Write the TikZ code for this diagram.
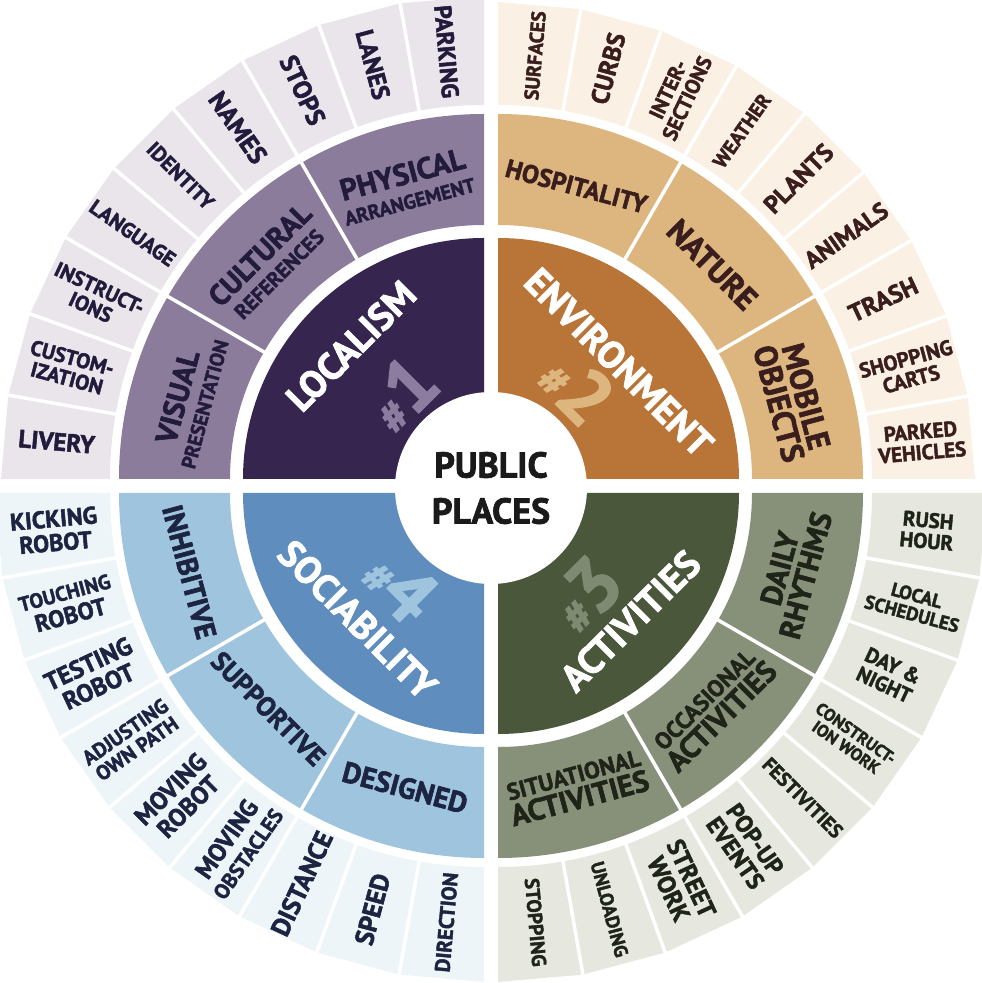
\documentclass[tikz,border=0pt]{standalone}
\usepackage{fontspec}
\setmainfont{PT Sans}[BoldFeatures={FakeBold=2}]
\usetikzlibrary{calc}

% quadrant palettes
\definecolor{locDark}{HTML}{36264F}
\definecolor{locMid}{HTML}{8B7C9B}
\definecolor{locOut}{HTML}{E9E5EA}
\definecolor{locText}{HTML}{221B3B}
\definecolor{locNum}{HTML}{8C7CA0}
\definecolor{envDark}{HTML}{B97438}
\definecolor{envMid}{HTML}{DCB67E}
\definecolor{envOut}{HTML}{FAF0E3}
\definecolor{envText}{HTML}{3A1E1E}
\definecolor{envNum}{HTML}{DDB57F}
\definecolor{actDark}{HTML}{4A573B}
\definecolor{actMid}{HTML}{87917A}
\definecolor{actOut}{HTML}{E6E7DF}
\definecolor{actText}{HTML}{1F2419}
\definecolor{actNum}{HTML}{7E8A71}
\definecolor{socDark}{HTML}{5F8DBE}
\definecolor{socMid}{HTML}{9FC4DE}
\definecolor{socOut}{HTML}{EEF5F9}
\definecolor{socText}{HTML}{1C2442}
\definecolor{socNum}{HTML}{9FC4DE}
\definecolor{hubText}{HTML}{1A1A1A}

\newcommand\fsz[1]{\fontsize{#1}{#1}\selectfont}

\begin{document}
\begin{tikzpicture}[x=1pt,y=1pt,
  sz/.style={font=\bfseries\fontsize{#1}{#1}\selectfont},
  lbl/.style={inner sep=0pt, align=center},
  nwl/.style={lbl, text=locText},
  nel/.style={lbl, text=envText},
  sel/.style={lbl, text=actText},
  swl/.style={lbl, text=socText},
  big/.style={lbl, text=white, sz=38},
  num/.style={lbl, font=\bfseries},
  sep/.style={white, line width=3.5pt},
]
\useasboundingbox (0,0) rectangle (982,983);
\clip (0,0) rectangle (982,983);

% corners of the four quadrants
\coordinate (nw) at (484,504);
\coordinate (ne) at (498,504);
\coordinate (se) at (498,490);
\coordinate (sw) at (484,490);

% rings: dark core, three middle sectors, nine outer cells
\foreach \c/\a/\dk/\md/\ou/\R [evaluate=\a as \b using int(\a+90)] in
  {nw/90/locDark/locMid/locOut/483pt,
   ne/0/envDark/envMid/envOut/477pt,
   se/270/actDark/actMid/actOut/489pt,
   sw/180/socDark/socMid/socOut/489pt}{
  \fill[\dk] (\c) -- ($(\c)+(\a:241pt)$) arc[start angle=\a, end angle=\b, radius=241pt] -- cycle;
  \fill[\md] ($(\c)+(\a:254pt)$) arc[start angle=\a, end angle=\b, radius=254pt]
     -- ($(\c)+(\b:365pt)$) arc[start angle=\b, end angle=\a, radius=365pt] -- cycle;
  \fill[\ou] ($(\c)+(\a:374pt)$) arc[start angle=\a, end angle=\b, radius=374pt]
     \foreach \k in {9,8,...,0}{ -- ($(\c)+(\a+10*\k:\R)$) } -- cycle;
  \foreach \k in {1,...,8}
    \draw[sep] ($(\c)+(\a+10*\k:371pt)$) -- ($(\c)+(\a+10*\k:520pt)$);
  \foreach \k in {1,2}
    \draw[sep] ($(\c)+(\a+30*\k:250pt)$) -- ($(\c)+(\a+30*\k:369pt)$);
}

% hub
\fill[white] (491,495) circle[radius=96pt];
\node[lbl, text=hubText, font=\bfseries\fontsize{36}{46}\selectfont] (hub) at (491,495) {PUBLIC\\PLACES};

% core numbers, then titles
\node[num, text=locNum, rotate=45] (n1) at ($(nw)+(134:120pt)$) {{\fsz{44}\#}{\fsz{76}1}};
\node[num, text=envNum, rotate=-45] (n2) at ($(ne)+(49:121pt)$) {{\fsz{44}\#}{\fsz{76}2}};
\node[num, text=actNum, rotate=45] (n3) at ($(se)+(-49:133pt)$) {{\fsz{44}\#}{\fsz{76}3}};
\node[num, text=socNum, rotate=-45] (n4) at ($(sw)+(228:124pt)$) {{\fsz{44}\#}{\fsz{76}4}};
\node[big, rotate=45] (localism) at ($(nw)+(135:188pt)$) {LOCALISM};
\node[big, rotate=-45] (environment) at ($(ne)+(44:168pt)$) {ENVIRONMENT};
\node[big, rotate=45] (activities) at ($(se)+(-44:184pt)$) {ACTIVITIES};
\node[big, rotate=-45] (sociability) at ($(sw)+(225:179pt)$) {SOCIABILITY};

% localism: middle ring
\node[nwl, sz=30, rotate=75] (visual) at ($(nw)+(165:305pt)$) {VISUAL\\[-5pt]{\fsz{20}PRESENTATION}};
\node[nwl, sz=29.5, rotate=45] (cultural) at ($(nw)+(135:305pt)$) {CULTURAL\\[-5pt]{\fsz{21}REFERENCES}};
\node[nwl, sz=30, rotate=15] (physical) at ($(nw)+(105:303pt)$) {PHYSICAL\\[-5pt]{\fsz{20}ARRANGEMENT}};
% localism: outer ring
\node[nwl, sz=25, rotate=-5] (livery) at ($(nw)+(175:429pt)$) {LIVERY};
\node[nwl, sz=21, rotate=-15] (custom) at ($(nw)+(165:429pt)$) {CUSTOM-\\IZATION};
\node[nwl, sz=21, rotate=-25] (instruct) at ($(nw)+(155:429pt)$) {INSTRUCT-\\IONS};
\node[nwl, sz=21, rotate=-35] (language) at ($(nw)+(145:429pt)$) {LANGUAGE};
\node[nwl, sz=21, rotate=-45] (identity) at ($(nw)+(135:429pt)$) {IDENTITY};
\node[nwl, sz=26, rotate=-55] (names) at ($(nw)+(125:429pt)$) {NAMES};
\node[nwl, sz=26, rotate=-65] (stops) at ($(nw)+(115:429pt)$) {STOPS};
\node[nwl, sz=25, rotate=-75] (lanes) at ($(nw)+(105:429pt)$) {LANES};
\node[nwl, sz=24, rotate=-85] (parking) at ($(nw)+(95:429pt)$) {PARKING};

% environment: middle ring
\node[nel, sz=25.5, rotate=-15] (hospitality) at ($(ne)+(75:303pt)$) {HOSPITALITY};
\node[nel, sz=32, rotate=-45] (nature) at ($(ne)+(45:303pt)$) {NATURE};
\node[nel, sz=32, rotate=-75] (mobile) at ($(ne)+(15:305pt)$) {MOBILE\\[-4pt]OBJECTS};
% environment: outer ring
\node[nel, sz=20, rotate=85] (surfaces) at ($(ne)+(85:425pt)$) {SURFACES};
\node[nel, sz=25, rotate=75] (curbs) at ($(ne)+(75:425pt)$) {CURBS};
\node[nel, sz=21, rotate=65] (inter) at ($(ne)+(65:425pt)$) {INTER-\\SECTIONS};
\node[nel, sz=20, rotate=55] (weather) at ($(ne)+(55:425pt)$) {WEATHER};
\node[nel, sz=25, rotate=45] (plants) at ($(ne)+(45:425pt)$) {PLANTS};
\node[nel, sz=24, rotate=35] (animals) at ($(ne)+(35:425pt)$) {ANIMALS};
\node[nel, sz=25, rotate=25] (trash) at ($(ne)+(25:425pt)$) {TRASH};
\node[nel, sz=21, rotate=15] (carts) at ($(ne)+(15:425pt)$) {SHOPPING\\CARTS};
\node[nel, sz=21, rotate=5] (parked) at ($(ne)+(5:425pt)$) {PARKED\\VEHICLES};

% activities: middle ring
\node[sel, sz=30, rotate=75] (daily) at ($(se)+(-15:305pt)$) {DAILY\\[-3pt]RHYTHMS};
\node[sel, sz=30, rotate=45] (occasional) at ($(se)+(-45:305pt)$) {{\fsz{23.5}OCCASIONAL}\\[-4pt]ACTIVITIES};
\node[sel, sz=30, rotate=15] (situational) at ($(se)+(-75:305pt)$) {{\fsz{23.5}SITUATIONAL}\\[-4pt]ACTIVITIES};
% activities: outer ring
\node[sel, sz=21, rotate=-5] (rush) at ($(se)+(-5:431pt)$) {RUSH\\HOUR};
\node[sel, sz=19, rotate=-15] (local) at ($(se)+(-15:431pt)$) {LOCAL\\SCHEDULES};
\node[sel, sz=21, rotate=-25] (daynight) at ($(se)+(-25:431pt)$) {DAY \&\\NIGHT};
\node[sel, sz=17, rotate=-35] (construct) at ($(se)+(-35:431pt)$) {CONSTRUCT-\\ION WORK};
\node[sel, sz=20, rotate=-45] (festivities) at ($(se)+(-45:431pt)$) {FESTIVITIES};
\node[sel, sz=24, rotate=-55] (popup) at ($(se)+(-55:431pt)$) {POP-UP\\EVENTS};
\node[sel, sz=25, rotate=-65] (street) at ($(se)+(-65:431pt)$) {STREET\\WORK};
\node[sel, sz=19, rotate=-75] (unloading) at ($(se)+(-75:431pt)$) {UNLOADING};
\node[sel, sz=20, rotate=-85] (stopping) at ($(se)+(-85:431pt)$) {STOPPING};

% sociability: middle ring
\node[swl, sz=29, rotate=-75] (inhibitive) at ($(sw)+(195:305pt)$) {INHIBITIVE};
\node[swl, sz=27, rotate=-45] (supportive) at ($(sw)+(225:305pt)$) {SUPPORTIVE};
\node[swl, sz=29, rotate=-15] (designed) at ($(sw)+(255:305pt)$) {DESIGNED};
% sociability: outer ring
\node[swl, sz=24, rotate=5] (kicking) at ($(sw)+(185:431pt)$) {KICKING\\ROBOT};
\node[swl, sz=24, rotate=15] (touching) at ($(sw)+(195:431pt)$) {{\fsz{20.5}TOUCHING}\\ROBOT};
\node[swl, sz=25, rotate=25] (testing) at ($(sw)+(205:431pt)$) {TESTING\\ROBOT};
\node[swl, sz=20.5, rotate=35] (adjusting) at ($(sw)+(215:431pt)$) {ADJUSTING\\OWN PATH};
\node[swl, sz=25, rotate=45] (movrobot) at ($(sw)+(225:431pt)$) {MOVING\\ROBOT};
\node[swl, sz=25, rotate=55] (movobst) at ($(sw)+(235:431pt)$) {MOVING\\{\fsz{21}OBSTACLES}};
\node[swl, sz=26, rotate=65] (distance) at ($(sw)+(245:431pt)$) {DISTANCE};
\node[swl, sz=26, rotate=75] (speed) at ($(sw)+(255:431pt)$) {SPEED};
\node[swl, sz=21, rotate=85] (direction) at ($(sw)+(265:431pt)$) {DIRECTION};
\end{tikzpicture}
\end{document}
